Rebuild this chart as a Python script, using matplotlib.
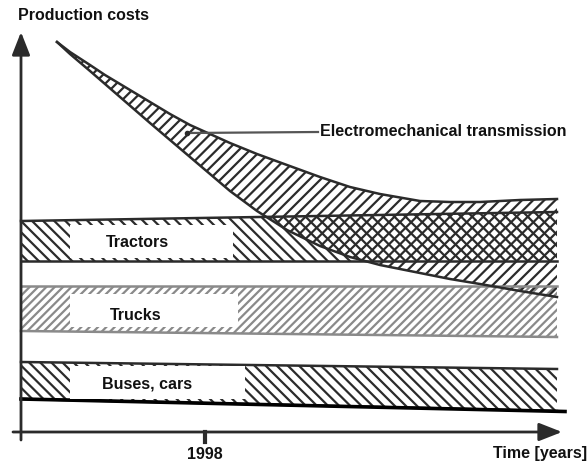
import matplotlib
matplotlib.use("Agg")
import matplotlib.pyplot as plt
from matplotlib.patches import Rectangle

# schematic units: x = time (origin at the y axis), y = production cost
band_x = [0, 536]
tractors_top = [211, 220]
tractors_bot = [171, 171]
trucks_top = [146, 146]
trucks_bot = [101, 95]
buses_top = [70, 63]
buses_bot = [33, 21]
buses_line_x = [0, 544]
buses_line_y = [33, 20.5]

emt_x = [36, 49, 69, 84, 99, 114, 129, 149, 169, 189, 209, 236, 266, 299,
         329, 359, 399, 429, 459, 499, 536]
emt_top = [390, 380, 367, 357, 348, 339, 330, 318, 307, 298, 289, 278, 267,
           255, 245, 238, 231, 230, 230, 232, 233]
emt_bot = [390, 378, 361, 348, 335, 322, 309, 292, 275, 258, 241, 221, 202,
           186, 175, 167, 159, 153, 148, 141, 135]

# white label boxes: (x0, x1, y0, y1)
label_names = ["Tractors", "Trucks", "Buses, cars"]
label_boxes = [(49, 212, 174, 207), (49, 217, 105, 138), (49, 224, 33, 66)]
label_pos = [(116, 190), (115, 118), (126, 49)]

year_tick = 184
year_label = "1998"

INK = "#2b2b2b"
GREY = "#8a8a8a"
FONT = "Liberation Sans"

plt.rcParams["hatch.linewidth"] = 1.6

fig = plt.figure(figsize=(5.88, 4.64), dpi=100)
ax = fig.add_axes([0, 0, 1, 1])
ax.set_xlim(-21, 567)
ax.set_ylim(-31, 433)
ax.axis("off")

# bands
ax.fill_between(band_x, tractors_bot, tractors_top, facecolor="none",
                edgecolor=INK, hatch="\\\\\\", linewidth=0, zorder=2)
ax.fill_between(band_x, trucks_bot, trucks_top, facecolor="none",
                edgecolor=GREY, hatch="////", linewidth=0, zorder=2)
ax.fill_between(band_x, buses_bot, buses_top, facecolor="none",
                edgecolor=INK, hatch="\\\\\\", linewidth=0, zorder=2)
ax.fill_between(emt_x, emt_bot, emt_top, facecolor="none",
                edgecolor=INK, hatch="///", linewidth=0, zorder=3)

for top, bot, col in [(tractors_top, tractors_bot, INK),
                      (trucks_top, trucks_bot, GREY),
                      (buses_top, buses_bot, INK)]:
    ax.plot(band_x, top, color=col, lw=1.8, zorder=4)
    ax.plot(band_x, bot, color=col, lw=1.8, zorder=4)
ax.plot(buses_line_x, buses_line_y, color="black", lw=2.6, zorder=5)
ax.plot(emt_x, emt_top, color=INK, lw=1.8, zorder=4)
ax.plot(emt_x, emt_bot, color=INK, lw=1.8, zorder=4)

# white label boxes and their text
for name, (x0, x1, y0, y1), (tx, ty) in zip(label_names, label_boxes, label_pos):
    ax.add_patch(Rectangle((x0, y0), x1 - x0, y1 - y0, facecolor="white",
                           edgecolor="none", zorder=6))
    ax.text(tx, ty, name, ha="center", va="center", fontsize=11.5,
            fontweight="bold", family=FONT, color="#111", zorder=7)

# electromechanical transmission label with leader
ax.plot([166, 297], [299, 300], color="#555", lw=1.6, zorder=6)
ax.plot([166], [299], "o", color=INK, ms=3, zorder=6)
ax.text(299, 302, "Electromechanical transmission", ha="left", va="center",
        fontsize=11.5, fontweight="bold", family=FONT, color="#111")

# axes with arrows
arrow = dict(arrowstyle="-|>,head_length=14,head_width=5.5", color=INK,
             lw=2, shrinkA=0, shrinkB=0, mutation_scale=1)
ax.annotate("", xy=(0, 400), xytext=(0, -8), arrowprops=arrow, zorder=8)
ax.annotate("", xy=(541, 0), xytext=(-8, 0), arrowprops=arrow, zorder=8)
ax.plot([year_tick, year_tick], [0, -10], color=INK, lw=3)

ax.text(-3, 418, "Production costs", ha="left", va="center", fontsize=11.5,
        fontweight="bold", family=FONT, color="#111")
ax.text(year_tick, -22, year_label, ha="center", va="center", fontsize=11.5,
        fontweight="bold", family=FONT, color="#111")
ax.text(566, -21, "Time [years]", ha="right", va="center", fontsize=11.5,
        fontweight="bold", family=FONT, color="#111")

fig.savefig("out.png", dpi=100)
